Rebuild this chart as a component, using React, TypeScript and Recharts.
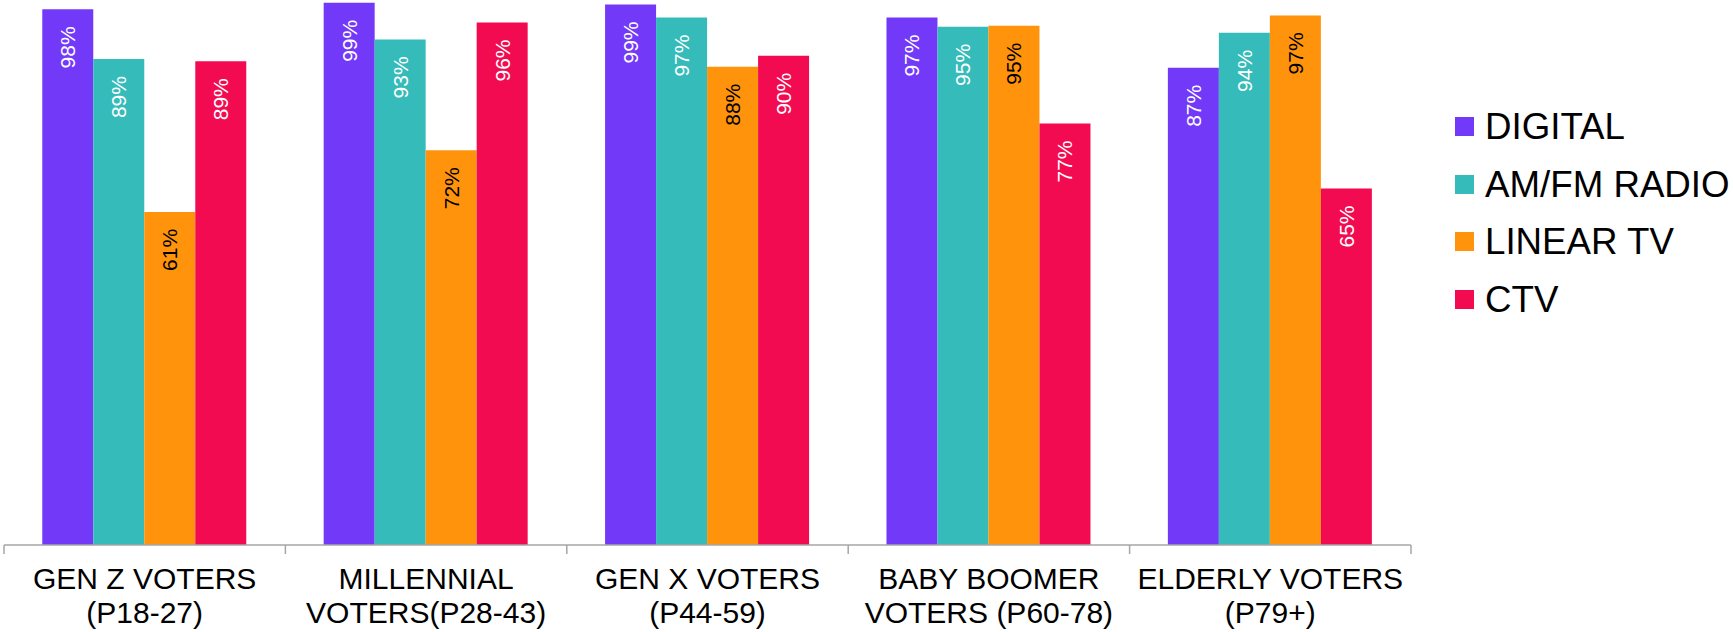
import React from "react"
import { Bar, BarChart, LabelList, Legend, XAxis, YAxis } from "recharts"

const categories = [
  "GEN Z VOTERS\n(P18-27)",
  "MILLENNIAL\nVOTERS(P28-43)",
  "GEN X VOTERS\n(P44-59)",
  "BABY BOOMER\nVOTERS (P60-78)",
  "ELDERLY VOTERS\n(P79+)",
]

const digital = [98.1, 99.3, 99.0, 96.6, 87.4]
const amfmRadio = [89.0, 92.6, 96.6, 94.9, 93.8]
const linearTv = [61.0, 72.3, 87.6, 95.1, 97.0]
const ctv = [88.6, 95.7, 89.6, 77.2, 65.3]

const series = [
  { key: "digital", name: "DIGITAL", color: "#7339F9", text: "#ffffff", values: digital },
  { key: "amfm", name: "AM/FM RADIO", color: "#35BBBA", text: "#ffffff", values: amfmRadio },
  { key: "linear", name: "LINEAR TV", color: "#FF930B", text: "#000000", values: linearTv },
  { key: "ctv", name: "CTV", color: "#F30B51", text: "#ffffff", values: ctv },
]

const data = categories.map((cat, i) => {
  const row: Record<string, string | number> = { cat }
  series.forEach((s) => {
    row[s.key] = s.values[i]
  })
  return row
})

const FONT = "'Liberation Sans', Arial, sans-serif"
const W = 1733
const H = 633
const PLOT_W = 1407

const fmtPct = (v: number) => `${Math.round(v)}%`

function CategoryTick(props: any) {
  const { x, y, payload, index, visibleTicksCount } = props
  const half = payload?.offset || PLOT_W / categories.length / 2
  const lines = String(payload.value).split("\n")
  const isLast = index === (visibleTicksCount ?? categories.length) - 1
  return (
    <g>
      <line x1={x - half} x2={x - half} y1={y} y2={y + 9} stroke="#a6a6a6" strokeWidth={1.5} />
      {isLast && (
        <line x1={x + half} x2={x + half} y1={y} y2={y + 9} stroke="#a6a6a6" strokeWidth={1.5} />
      )}
      <text x={x} y={y} textAnchor="middle" fontFamily={FONT} fontSize={30} fill="#000">
        {lines.map((l, i) => (
          <tspan key={i} x={x} y={y + 44 + i * 34}>
            {l}
          </tspan>
        ))}
      </text>
    </g>
  )
}

function makeLabel(color: string) {
  return (props: any) => {
    const { x, y, width, value } = props
    const cx = Number(x) + Number(width) / 2
    const ty = Number(y) + 17
    return (
      <text
        x={cx}
        y={ty}
        transform={`rotate(-90, ${cx}, ${ty})`}
        textAnchor="end"
        dominantBaseline="central"
        fontFamily={FONT}
        fontSize={21}
        fill={color}
      >
        {fmtPct(Number(value))}
      </text>
    )
  }
}

function LegendBox() {
  return (
    <div style={{ fontFamily: FONT }}>
      {series.map((s) => (
        <div
          key={s.key}
          style={{ display: "flex", alignItems: "center", height: 57.5, whiteSpace: "nowrap" }}
        >
          <span style={{ width: 19, height: 19, background: s.color, marginRight: 11, flex: "none" }} />
          <span style={{ fontSize: 36.7, lineHeight: "57.5px", color: "#000" }}>{s.name}</span>
        </div>
      ))}
    </div>
  )
}

export default function App() {
  return (
    <div style={{ position: "absolute", left: 0, top: -1, width: W, height: H, background: "#fff" }}>
      <BarChart
        width={W}
        height={H}
        data={data}
        margin={{ top: 0, right: W - 4 - PLOT_W, bottom: 0, left: 4 }}
        barCategoryGap="13.6%"
        barGap={0}
      >
        <XAxis
          dataKey="cat"
          height={87}
          interval={0}
          tickLine={false}
          tickSize={0}
          tickMargin={0}
          axisLine={{ stroke: "#a6a6a6", strokeWidth: 1.5 }}
          tick={<CategoryTick />}
        />
        <YAxis hide domain={[0, 100]} />
        <Legend
          layout="vertical"
          align="center"
          verticalAlign="middle"
          content={() => <LegendBox />}
          wrapperStyle={{ left: 1455, top: 99, width: 278, height: 230 }}
        />
        {series.map((s) => (
          <Bar key={s.key} dataKey={s.key} name={s.name} fill={s.color} isAnimationActive={false}>
            <LabelList dataKey={s.key} content={makeLabel(s.text)} />
          </Bar>
        ))}
      </BarChart>
    </div>
  )
}
